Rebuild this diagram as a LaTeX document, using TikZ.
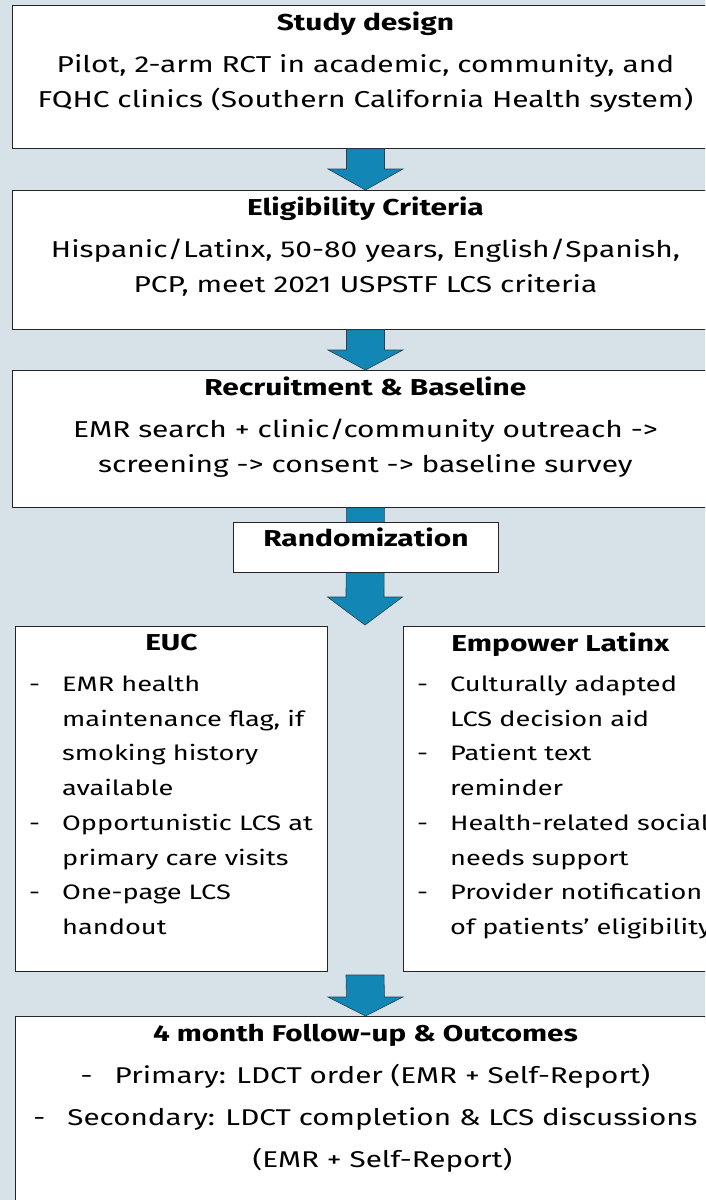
\documentclass[tikz,border=0pt]{standalone}
\usepackage{fontspec}
\setmainfont{Fira Sans}[FakeStretch=1.3]
\usetikzlibrary{calc}

\definecolor{bgblue}{RGB}{214,226,232}
\definecolor{flowblue}{RGB}{18,134,180}
\definecolor{flowedge}{RGB}{38,66,84}

% wide block arrow from #1 down to its tip #2, head length #3
\newcommand{\blockarrow}[3]{%
  \filldraw[flowarrow] ($(#1)+(-19,0)$) -- ($(#2)+(-19,#3)$) -- ($(#2)+(-37.5,#3)$)
    -- (#2) -- ($(#2)+(37.5,#3)$) -- ($(#2)+(19,#3)$) -- ($(#1)+(19,0)$) -- cycle;}

\begin{document}
\begin{tikzpicture}[x=1pt,y=1pt,
    box/.style={draw=black!85,line width=0.9pt,fill=white,inner sep=0pt,anchor=north west},
    flowarrow/.style={fill=flowblue,draw=flowedge,line width=0.6pt,line join=miter},
    txt/.style={inner sep=0pt,align=center,anchor=north,font=\fontsize{23}{35}\selectfont},
    ttl/.style={inner sep=0pt,anchor=north,font=\fontsize{23}{35}\selectfont\bfseries},
    lst/.style={inner sep=0pt,anchor=north west,align=left,font=\fontsize{20.9}{34.7}\selectfont}]

	\fill[bgblue] (0,0) rectangle (705,-1200);
	\useasboundingbox (0,0) rectangle (705,-1200);
	\clip (0,0) rectangle (705,-1200);

	% main column
	\node[box,minimum width=706,minimum height=143] (design) at (12,-5) {};
	\node[box,minimum width=706,minimum height=139] (elig) at (12,-190) {};
	\node[box,minimum width=706,minimum height=137] (recruit) at (12,-370) {};

	% the two arms
	\node[box,minimum width=312,minimum height=345] (euc) at (15,-626) {};
	\node[box,minimum width=314,minimum height=345] (empower) at (403,-626) {};
	\node[box,minimum width=700,minimum height=250] (followup) at (15,-1016) {};

	\coordinate (split) at (365,-625);
	\coordinate (merge) at (365,-975);

	\blockarrow{design.south}{elig.north}{21}
	\blockarrow{elig.south}{recruit.north}{20}
	\blockarrow{recruit.south}{split}{28}
	\blockarrow{merge}{followup.north}{19}

	\node[box,minimum width=265,minimum height=50] (rand) at (233,-522) {};

	% texts
	\node[txt] (designtxt) at ($(design.north)+(0,-7)$) {\textbf{Study design}\\[7pt]
		Pilot, 2-arm RCT in academic, community, and\\
		FQHC clinics (Southern California Health system)};
	\node[txt] (eligtxt) at ($(elig.north)+(0,-7)$) {\textbf{Eligibility Criteria}\\[7pt]
		Hispanic/Latinx, 50-80 years, English/Spanish,\\
		PCP, meet 2021 USPSTF LCS criteria};
	\node[txt] (recruittxt) at ($(recruit.north)+(0,-7)$) {\textbf{Recruitment \& Baseline}\\[7pt]
		EMR search + clinic/community outreach ->\\
		screening -> consent -> baseline survey};
	\node[ttl] (randtxt) at ($(rand.north)+(0,-6)$) {Randomization};

	\node[ttl] (eucttl) at ($(euc.north)+(0,-8)$) {EUC};
	\node[lst] (euclist) at ($(euc.north west)+(14,-41)$) {%
		\begin{tabular}{@{}p{33pt}@{}l@{}}
		- & EMR health\\
		  & maintenance flag, if\\
		  & smoking history\\
		  & available\\
		- & Opportunistic LCS at\\
		  & primary care visits\\
		- & One-page LCS\\
		  & handout
		\end{tabular}};

	\node[ttl] (empowerttl) at ($(empower.north)+(0,-7)$) {Empower Latinx};
	\node[lst] (empowerlist) at ($(empower.north west)+(14,-41)$) {%
		\begin{tabular}{@{}p{33pt}@{}l@{}}
		- & Culturally adapted\\
		  & LCS decision aid\\
		- & Patient text\\
		  & reminder\\
		- & Health-related social\\
		  & needs support\\
		- & Provider notification\\
		  & of patients’ eligibility
		\end{tabular}};

	\node[txt,font=\fontsize{22.8}{42}\selectfont] (followtxt) at ($(followup.north)+(0,-8)$) {%
		\textbf{4 month Follow-up \& Outcomes}\\
		\makebox[34pt][l]{-}Primary: LDCT order (EMR + Self-Report)\\
		\makebox[34pt][l]{-}Secondary: LDCT completion \& LCS discussions\\
		\hspace*{34pt}(EMR + Self-Report)};
\end{tikzpicture}
\end{document}
